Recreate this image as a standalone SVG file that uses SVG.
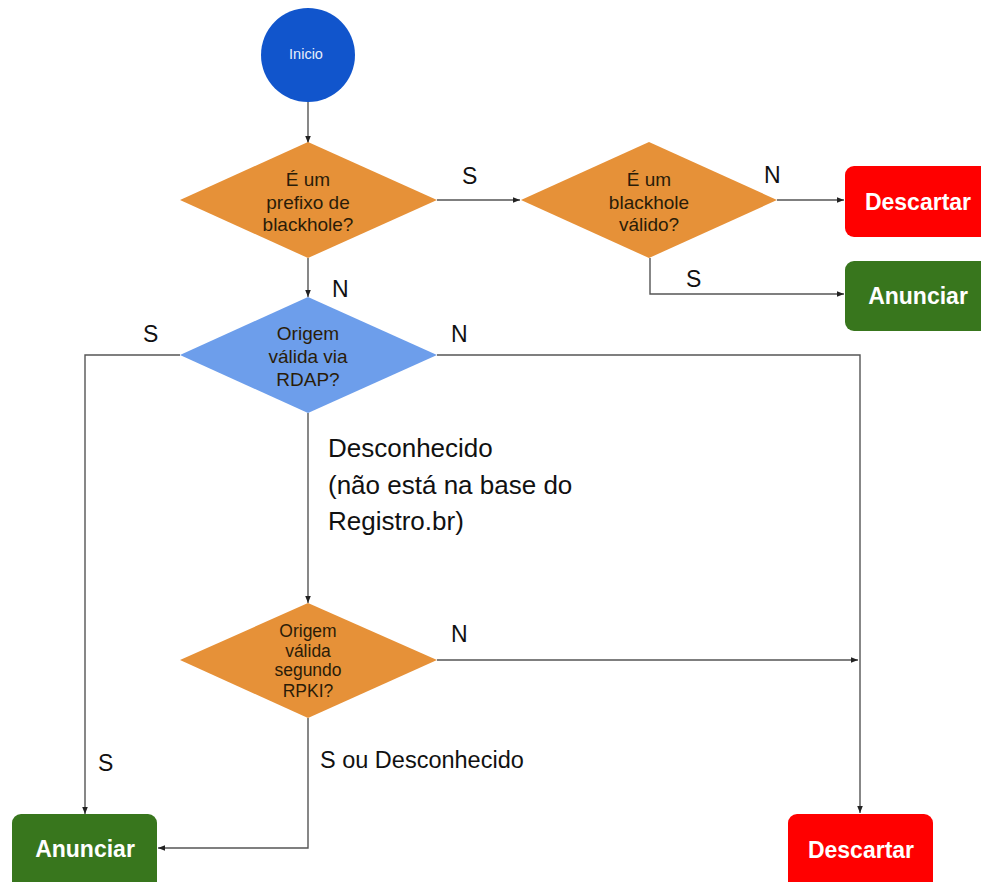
<svg xmlns="http://www.w3.org/2000/svg" width="981" height="882" viewBox="0 0 981 882">
<style>
.ln{fill:none;stroke:#555;stroke-width:1.4}
.lbl{font-family:"Liberation Sans",Arial,sans-serif;font-size:23px;fill:#111}
.dt{font-family:"Liberation Sans",Arial,sans-serif;font-size:19px;fill:#2a1c08;text-anchor:middle}
.bt{font-family:"Liberation Sans",Arial,sans-serif;font-size:23px;font-weight:bold;fill:#fff;text-anchor:middle}
.or{fill:#e69138}
</style>
<defs>
<marker id="ah" viewBox="0 0 10 10" refX="10" refY="5" markerWidth="7" markerHeight="7" orient="auto" markerUnits="userSpaceOnUse">
<path d="M0,1 L10,5 L0,9 z" fill="#222"/>
</marker>
</defs>
<rect width="981" height="882" fill="#fff"/>
<g id="connectors">
<path class="ln" d="M308,102 V143" marker-end="url(#ah)"/>
<path class="ln" d="M437,200 H520" marker-end="url(#ah)"/>
<path class="ln" d="M777,200 H844" marker-end="url(#ah)"/>
<path class="ln" d="M650,258 V294 H844" marker-end="url(#ah)"/>
<path class="ln" d="M308,258 V297" marker-end="url(#ah)"/>
<path class="ln" d="M180,355 H85 V814" marker-end="url(#ah)"/>
<path class="ln" d="M437,355 H860 V813" marker-end="url(#ah)"/>
<path class="ln" d="M308,413 V603" marker-end="url(#ah)"/>
<path class="ln" d="M437,660 H858" marker-end="url(#ah)"/>
<path class="ln" d="M308,718 V848 H158" marker-end="url(#ah)"/>
<text class="lbl" x="462" y="184">S</text>
<text class="lbl" x="764" y="183">N</text>
<text class="lbl" x="686" y="287">S</text>
<text class="lbl" x="332" y="297">N</text>
<text class="lbl" x="143" y="342">S</text>
<text class="lbl" x="451" y="342">N</text>
<text class="lbl" x="328" y="457" style="font-size:26px">Desconhecido</text>
<text class="lbl" x="328" y="494" style="font-size:26px">(não está na base do</text>
<text class="lbl" x="328" y="530" style="font-size:26px">Registro.br)</text>
<text class="lbl" x="451" y="642">N</text>
<text class="lbl" x="320" y="768" style="font-size:23.5px">S ou Desconhecido</text>
<text class="lbl" x="98" y="771">S</text>
</g>
<g id="inicio">
<circle cx="308" cy="55" r="47" fill="#1155cc"/>
<text x="306" y="59" style="font-family:'Liberation Sans',Arial,sans-serif;font-size:14.5px;fill:#e8eefa;text-anchor:middle">Inicio</text>
</g>
<g id="prefixo">
<polygon class="or" points="308,142 437,200 308,258 180,200"/>
<text class="dt" x="308" y="186">É um</text>
<text class="dt" x="308" y="209">prefixo de</text>
<text class="dt" x="308" y="231">blackhole?</text>
</g>
<g id="blackhole">
<polygon class="or" points="649,142 777,200 649,258 521,200"/>
<text class="dt" x="649" y="186">É um</text>
<text class="dt" x="649" y="209">blackhole</text>
<text class="dt" x="649" y="231">válido?</text>
</g>
<g id="descartar1">
<rect x="845" y="166" width="145" height="71" rx="9" fill="#ff0000"/>
<text class="bt" x="918" y="210">Descartar</text>
</g>
<g id="anunciar1">
<rect x="845" y="261" width="145" height="70" rx="9" fill="#38761d"/>
<text class="bt" x="918" y="304">Anunciar</text>
</g>
<g id="rdap">
<polygon points="308,297 437,355 308,413 180,355" fill="#6d9eeb"/>
<text class="dt" x="308" y="340">Origem</text>
<text class="dt" x="308" y="363">válida via</text>
<text class="dt" x="308" y="386">RDAP?</text>
</g>
<g id="rpki">
<polygon class="or" points="308,603 437,660 308,718 180,660"/>
<text class="dt" x="308" y="637" style="font-size:17.5px">Origem</text>
<text class="dt" x="308" y="657" style="font-size:17.5px">válida</text>
<text class="dt" x="308" y="676" style="font-size:17.5px">segundo</text>
<text class="dt" x="308" y="697" style="font-size:17.5px">RPKI?</text>
</g>
<g id="anunciar2">
<rect x="12" y="814" width="145" height="80" rx="9" fill="#38761d"/>
<text class="bt" x="85" y="857">Anunciar</text>
</g>
<g id="descartar2">
<rect x="788" y="814" width="145" height="80" rx="9" fill="#ff0000"/>
<text class="bt" x="861" y="858">Descartar</text>
</g>
</svg>
